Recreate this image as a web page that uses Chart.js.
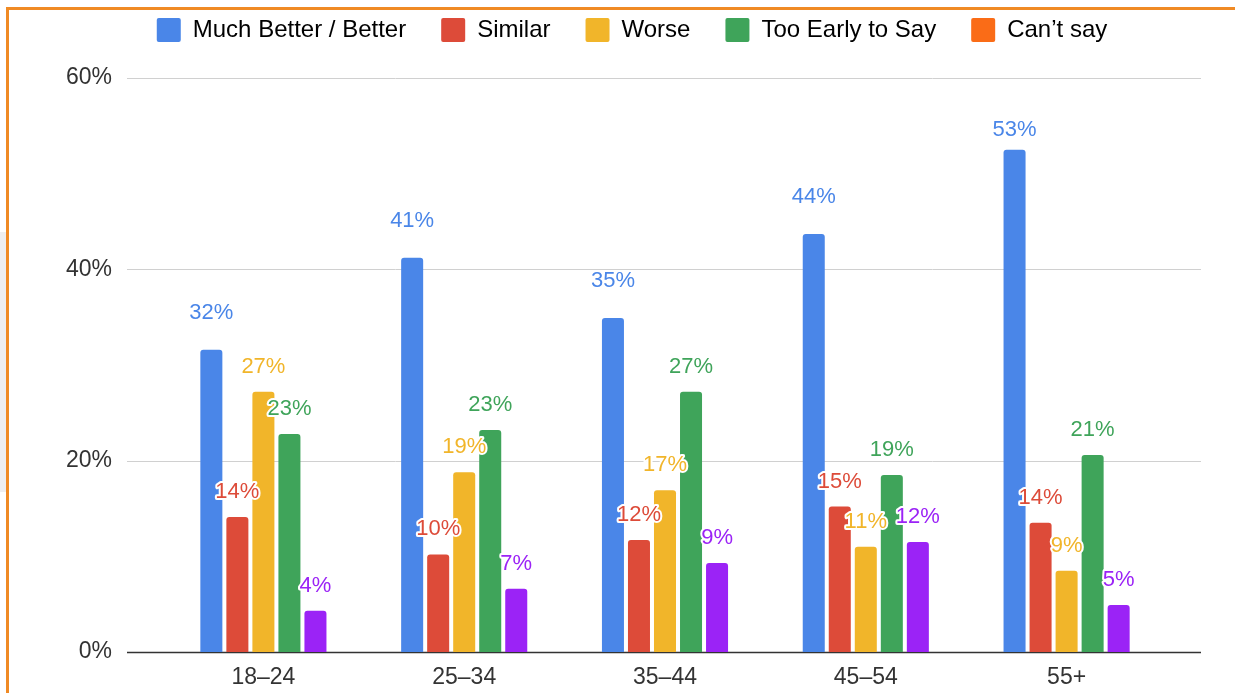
<!DOCTYPE html>
<html>
<head>
<meta charset="utf-8">
<script src="https://cdn.jsdelivr.net/npm/chart.js@4"></script>
<style>
  html, body { margin: 0; padding: 0; background: #fff; }
  #wrap { position: relative; width: 1235px; height: 693px; overflow: hidden; }
  #frame { position: absolute; left: 6px; top: 7px; width: 1300px; height: 760px;
           border-left: 3px solid #f08a24; border-top: 3px solid #f08a24; box-sizing: border-box; }
  #shade { position: absolute; left: 0; top: 232px; width: 6px; height: 260px; background: #eeeef0; }
  canvas { position: absolute; left: 0; top: 0; }
</style>
</head>
<body>
<div id="wrap">
  <div id="shade"></div>
  <div id="frame"></div>
  <canvas id="c" width="1235" height="693"></canvas>
</div>
<script>
// age groups + share of answers (%)
const ageGroups = ['18\u201324', '25\u201334', '35\u201344', '45\u201354', '55+'];
const seriesNames = ['Much Better / Better', 'Similar', 'Worse', 'Too Early to Say', 'Can\u2019t say'];
const muchBetter = [31.6, 41.2, 34.9, 43.7, 52.5];
const similar    = [14.1, 10.2, 11.7, 15.2, 13.5];
const worse      = [27.2, 18.8, 16.9, 11.0, 8.5];
const tooEarly   = [22.8, 23.2, 27.2, 18.5, 20.6];
const cantSay    = [4.3, 6.6, 9.3, 11.5, 4.9];
const yTicks = [0, 20, 40, 60];

const barColors = ['#4a86e8', '#dd4b39', '#f1b52a', '#3fa45a', '#9b23f6'];
const legendColors = ['#4a86e8', '#dd4b39', '#f1b52a', '#3fa45a', '#fa6c17'];
const FONT = "'Liberation Sans', Arial, sans-serif";

const allSeries = [muchBetter, similar, worse, tooEarly, cantSay];

// gridlines that run a bit past the bars, like the sheets chart
const gridPlugin = {
  id: 'grid',
  beforeDatasetsDraw(chart) {
    const { ctx, chartArea, scales } = chart;
    ctx.save();
    yTicks.forEach(t => {
      const y = Math.round(scales.y.getPixelForValue(t)) + 0.5;
      ctx.beginPath();
      ctx.strokeStyle = t === 0 ? '#333' : '#d0d0d0';
      ctx.lineWidth = t === 0 ? 1.5 : 1;
      ctx.moveTo(chartArea.left - 36, y);
      ctx.lineTo(chartArea.right + 34, y);
      ctx.stroke();
    });
    ctx.restore();
  }
};

// value labels above each bar, with white halo
const labelPlugin = {
  id: 'vlabels',
  afterDatasetsDraw(chart) {
    const ctx = chart.ctx;
    const top = chart.chartArea.top;
    ctx.save();
    ctx.font = '22px ' + FONT;
    ctx.textAlign = 'center';
    ctx.textBaseline = 'middle';
    ctx.lineJoin = 'round';
    chart.data.datasets.forEach((ds, i) => {
      const meta = chart.getDatasetMeta(i);
      const off = i === 0 ? 37 : 25;
      meta.data.forEach((bar, j) => {
        const txt = Math.round(ds.data[j]) + '%';
        const y = Math.max(bar.y - off, top + 52);
        ctx.lineWidth = 4;
        ctx.strokeStyle = '#fff';
        ctx.strokeText(txt, bar.x, y);
        ctx.fillStyle = barColors[i];
        ctx.fillText(txt, bar.x, y);
      });
    });
    ctx.restore();
  }
};

// more room under the legend, and center it over the plot + axis
const legendLayout = {
  id: 'legendLayout',
  beforeInit(chart) {
    const fit = chart.legend.fit;
    chart.legend.fit = function () {
      fit.call(this);
      this.height += 26;
    };
  },
  afterLayout(chart) {
    chart.legend.left = 97;
  }
};

new Chart(document.getElementById('c'), {
  type: 'bar',
  data: {
    labels: ageGroups,
    datasets: allSeries.map((d, i) => ({
      label: seriesNames[i],
      data: d,
      backgroundColor: barColors[i],
      borderRadius: { topLeft: 3, topRight: 3 },
      borderSkipped: 'bottom',
      categoryPercentage: 0.648,
      barPercentage: 0.846
    }))
  },
  options: {
    responsive: false,
    animation: false,
    layout: { padding: { left: 0, right: 68, top: -17, bottom: 0 } },
    plugins: {
      tooltip: { enabled: false },
      legend: {
        position: 'top',
        labels: {
          font: { family: FONT, size: 24 },
          color: '#333',
          boxWidth: 24,
          boxHeight: 24,
          padding: 35,
          generateLabels(chart) {
            return chart.data.datasets.map((ds, i) => ({
              text: ds.label,
              fillStyle: legendColors[i],
              strokeStyle: legendColors[i],
              lineWidth: 0,
              borderRadius: 2,
              datasetIndex: i
            }));
          }
        }
      }
    },
    scales: {
      x: {
        grid: { display: false, drawTicks: false },
        border: { display: false },
        ticks: { font: { family: FONT, size: 23 }, color: '#333', padding: 12 },
        afterFit(axis) { axis.height = 41; axis.paddingLeft = 0; axis.paddingRight = 0; }
      },
      y: {
        min: 0,
        max: 60,
        afterBuildTicks(axis) { axis.ticks = yTicks.map(v => ({ value: v })); },
        grid: { display: false, drawTicks: false },
        border: { display: false },
        ticks: {
          font: { family: FONT, size: 23 },
          color: '#333',
          padding: 51,
          callback: v => v + '%'
        },
        afterFit(axis) { axis.width = 163; axis.paddingTop = 0; axis.paddingBottom = 0; }
      }
    }
  },
  plugins: [gridPlugin, labelPlugin, legendLayout]
});
</script>
</body>
</html>
